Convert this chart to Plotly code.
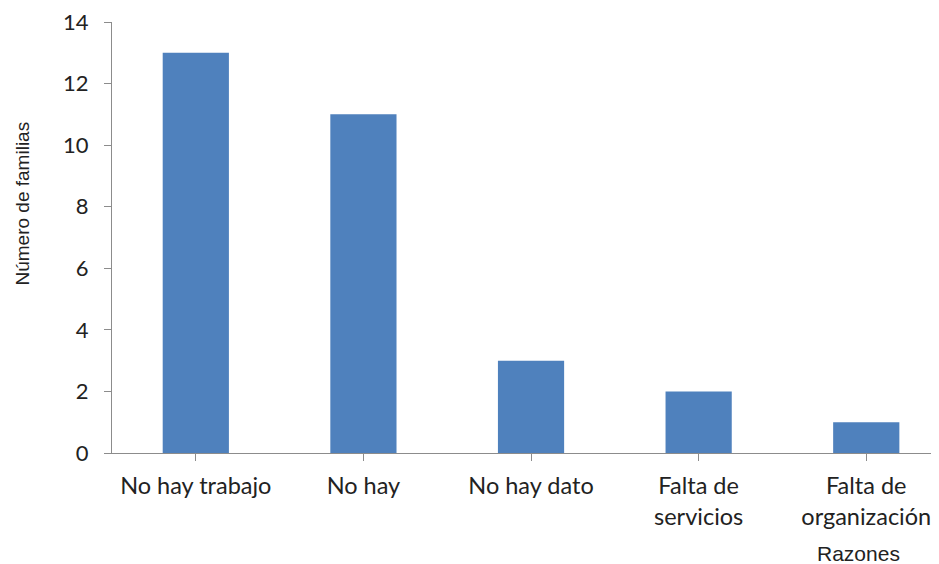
import plotly.graph_objects as go

categories = ["No hay trabajo", "No hay", "No hay dato", "Falta de<br>servicios", "Falta de<br>organización"]
values = [13, 11, 3, 2, 1]
y_ticks = [0, 2, 4, 6, 8, 10, 12, 14]

# page has an 8px body margin; compensate so the figure lands like the reference
W, H = 931, 556
L, T, B = 104, 12, 111
PW = W - L
PH = H - T - B

fig = go.Figure(go.Bar(
    x=list(range(len(categories))), y=values,
    marker=dict(color="#4F81BD", line=dict(width=0)),
    width=0.395,
))

fig.update_layout(
    width=W, height=H,
    margin=dict(l=L, r=0, t=T, b=B),
    paper_bgcolor="white", plot_bgcolor="white",
    showlegend=False,
    font=dict(family="Lato, Open Sans, sans-serif", color="#222"),
    xaxis=dict(
        tickmode="array", tickvals=list(range(len(categories))), ticktext=categories,
        range=[-0.5, 4.434], showgrid=False, zeroline=False,
        showline=True, linecolor="#8c8c8c", linewidth=1.3,
        ticks="outside", ticklen=7, tickcolor="#8c8c8c", tickson="boundaries",
        tickfont=dict(size=23.5, family="Lato, sans-serif", color="#222"),
        ticklabelstandoff=5, ticklabeloverflow="allow",
    ),
    yaxis=dict(
        tickmode="array", tickvals=y_ticks, range=[0, 14],
        showgrid=False, zeroline=False,
        showline=True, linecolor="#8c8c8c", linewidth=1.3,
        ticks="outside", ticklen=7, tickcolor="#8c8c8c",
        tickfont=dict(size=22, family="Lato, sans-serif", color="#222"),
        ticklabelstandoff=11, ticklabeloverflow="allow",
    ),
    annotations=[
        dict(text="Número de familias", xref="paper", yref="paper", x=(14 - L) / PW,
             y=0.5, yshift=34, textangle=-90, showarrow=False,
             font=dict(size=19, family="Liberation Sans, Arial, sans-serif", color="#222"),
             xanchor="center", yanchor="middle"),
        dict(text="Razones", xref="paper", yref="paper", x=(850 - L) / PW, y=0, yshift=-100,
             showarrow=False, xanchor="center", yanchor="middle",
             font=dict(size=21, family="Liberation Sans, Arial, sans-serif", color="#222")),
    ],
)

fig.write_html("out.html")
